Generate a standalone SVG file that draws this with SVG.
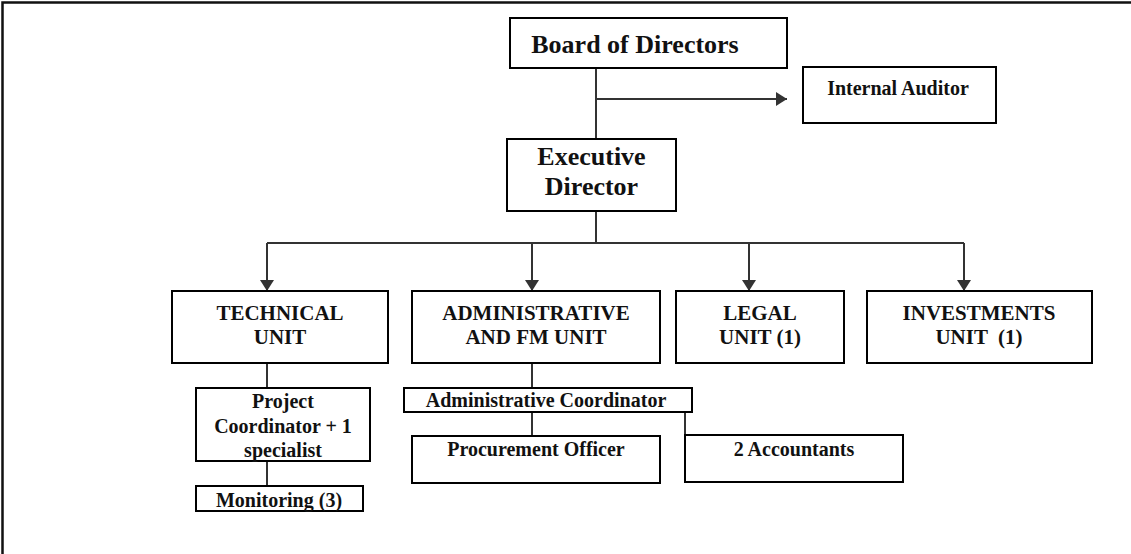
<svg xmlns="http://www.w3.org/2000/svg" width="1131" height="554" viewBox="0 0 1131 554">
<style>
.box{fill:#fff;stroke:#000;stroke-width:2}
.t{font-family:"Liberation Serif","Times New Roman",serif;font-weight:bold;fill:#111;text-anchor:middle}
.c{fill:none;stroke:#333;stroke-width:2}
</style>
<defs>
<marker id="ah" markerUnits="userSpaceOnUse" markerWidth="16" markerHeight="16" refX="11" refY="7" orient="auto">
<path d="M0,0 L11,7 L0,14 Z" fill="#333"/>
</marker>
</defs>
<rect x="0" y="0" width="1131" height="554" fill="#fff"/>
<path d="M2.5,554 V2.5 H1131" fill="none" stroke="#111" stroke-width="2.5"/>
<g id="connectors">
<path class="c" d="M596,68 V139"/>
<path class="c" d="M596,99 H787" marker-end="url(#ah)"/>
<path class="c" d="M596,211 V243"/>
<path class="c" d="M267,243 H964"/>
<path class="c" d="M267,243 V291" marker-end="url(#ah)"/>
<path class="c" d="M532,243 V291" marker-end="url(#ah)"/>
<path class="c" d="M749,243 V291" marker-end="url(#ah)"/>
<path class="c" d="M964,243 V291" marker-end="url(#ah)"/>
<path class="c" d="M267,363 V388"/>
<path class="c" d="M267,461 V486"/>
<path class="c" d="M532,363 V388"/>
<path class="c" d="M532,412 V436"/>
<path class="c" d="M685,412 V435"/>
</g>
<g id="board">
<rect class="box" x="510" y="18" width="277" height="50"/>
<text class="t" x="635" y="53" font-size="26">Board of Directors</text>
</g>
<g id="auditor">
<rect class="box" x="803" y="67" width="193" height="56"/>
<text class="t" x="898" y="95" font-size="20">Internal Auditor</text>
</g>
<g id="exec">
<rect class="box" x="507" y="139" width="169" height="72"/>
<text class="t" x="591.5" y="165" font-size="26">Executive</text>
<text class="t" x="591.5" y="195" font-size="26">Director</text>
</g>
<g id="technical">
<rect class="box" x="172" y="291" width="216" height="72"/>
<text class="t" x="280" y="320" font-size="21">TECHNICAL</text>
<text class="t" x="280" y="344" font-size="21">UNIT</text>
</g>
<g id="admin">
<rect class="box" x="412" y="291" width="248" height="72"/>
<text class="t" x="536" y="320" font-size="21">ADMINISTRATIVE</text>
<text class="t" x="536" y="344" font-size="21">AND FM UNIT</text>
</g>
<g id="legal">
<rect class="box" x="676" y="291" width="168" height="72"/>
<text class="t" x="760" y="320" font-size="21">LEGAL</text>
<text class="t" x="760" y="344" font-size="21">UNIT (1)</text>
</g>
<g id="investments">
<rect class="box" x="867" y="291" width="225" height="72"/>
<text class="t" x="979" y="320" font-size="21">INVESTMENTS</text>
<text class="t" x="979" y="344" font-size="21" xml:space="preserve">UNIT  (1)</text>
</g>
<g id="project">
<rect class="box" x="196" y="388" width="174" height="73"/>
<text class="t" x="283" y="408" font-size="20">Project</text>
<text class="t" x="283" y="433" font-size="20">Coordinator + 1</text>
<text class="t" x="283" y="457" font-size="20">specialist</text>
</g>
<g id="monitoring">
<rect class="box" x="196" y="486" width="167" height="25"/>
<text class="t" x="279" y="507" font-size="20">Monitoring (3)</text>
</g>
<g id="admincoord">
<rect class="box" x="404" y="388" width="288" height="24"/>
<text class="t" x="546" y="407" font-size="20">Administrative Coordinator</text>
</g>
<g id="procurement">
<rect class="box" x="412" y="436" width="248" height="47"/>
<text class="t" x="536" y="456" font-size="20">Procurement Officer</text>
</g>
<g id="accountants">
<rect class="box" x="685" y="435" width="218" height="47"/>
<text class="t" x="794" y="456" font-size="20">2 Accountants</text>
</g>
</svg>
